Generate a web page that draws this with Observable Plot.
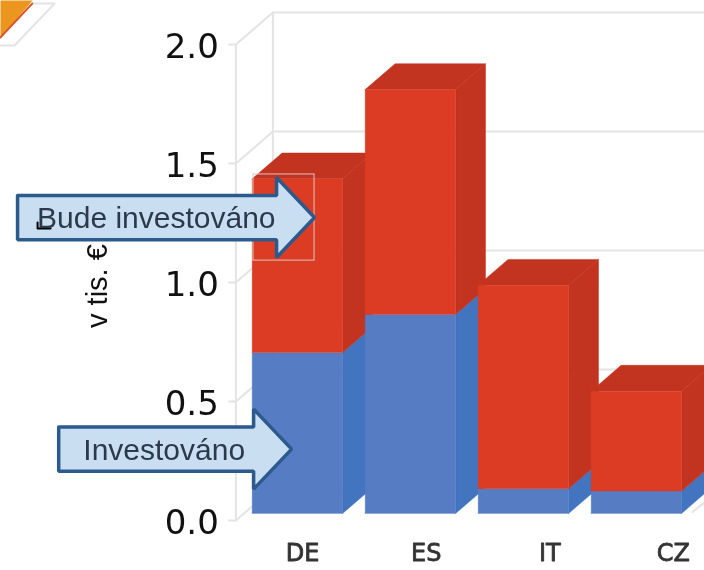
<!DOCTYPE html>
<html><head><meta charset="utf-8">
<script src="https://cdn.jsdelivr.net/npm/d3@7"></script>
<script src="https://cdn.jsdelivr.net/npm/@observablehq/plot@0.6"></script>
<style>
html,body{margin:0;padding:0;background:#fff;overflow:hidden}
svg{display:block;filter:blur(0.65px)}
</style></head><body><div id="c"></div>
<script>
// Data (thousands of €)
const categories = ["DE", "ES", "IT", "CZ"];
const invested = [0.676, 0.836, 0.104, 0.094];
const toInvest = [0.73, 0.945, 0.855, 0.42];
const yTicks = [0, 0.5, 1, 1.5, 2];

// Plot frame in data units (x: category index, y: thousands of €)
const xDomain = [-2.633, 3.597];
const yDomain = [-0.2101, 2.1849];

// Pseudo-3D depth of the chart box, in data units
const depthX = 0.327, depthY = 0.134;
const barFront = 0.22, barBack = 1.03, barHalf = 0.4, barShift = -0.078;
const proj = (x, v, t) => ({x: x + t * depthX, y: v + t * depthY});

const red = "#dc3c24", redDark = "#c23420", blue = "#567cc3", blueDark = "#4274bf";

const tops = [], sides = [], fronts = [];
categories.forEach((c, i) => {
  const l = i + barShift - barHalf, r = i + barShift + barHalf;
  const tot = invested[i] + toInvest[i];
  const quad = (id, fill, pts) => pts.map(p => ({id, fill, ...p}));
  tops.push(...quad(c + "t", redDark, [
    proj(l, tot, barFront), proj(r, tot, barFront), proj(r, tot, barBack), proj(l, tot, barBack)]));
  sides.push(...quad(c + "b", blueDark, [
    proj(r, 0, barFront), proj(r, invested[i], barFront), proj(r, invested[i], barBack), proj(r, 0, barBack)]));
  sides.push(...quad(c + "r", redDark, [
    proj(r, invested[i], barFront), proj(r, tot, barFront), proj(r, tot, barBack), proj(r, invested[i], barBack)]));
  fronts.push(...quad(c + "fb", blue, [
    proj(l, 0, barFront), proj(r, 0, barFront), proj(r, invested[i], barFront), proj(l, invested[i], barFront)]));
  fronts.push(...quad(c + "fr", red, [
    proj(l, invested[i], barFront), proj(r, invested[i], barFront), proj(r, tot, barFront), proj(l, tot, barFront)]));
});
const close = rows => d3.groups(rows, d => d.id).flatMap(([, g]) => [...g, g[0]]);

// Box walls
const wallX = -0.55, gridEnd = 3.6;
const walls = [];
yTicks.forEach(v => {
  const b = proj(wallX, v, 1), f = proj(wallX, v, 0);
  walls.push({id: "g" + v, ...b}, {id: "g" + v, x: gridEnd, y: b.y});
  walls.push({id: "d" + v, x: f.x - 0.06, y: v}, {id: "d" + v, ...f}, {id: "d" + v, ...b});
});
walls.push({id: "vf", ...proj(wallX, 0, 0)}, {id: "vf", ...proj(wallX, 2, 0)});
walls.push({id: "vb", ...proj(wallX, 0, 1)}, {id: "vb", ...proj(wallX, 2, 1)});
const floorEdge = [{id: "e", x: 3.49, y: 0.035}, {id: "e", x: 3.6, y: 0.077}];

// Block arrows: tip and tail along the body axis, in data units
const bodyHalf = 0.093, headHalf = 0.168, headLen = 0.336;
const arrow = (id, tailX, tipX, y) => [
  [tailX, y + bodyHalf], [tipX - headLen, y + bodyHalf], [tipX - headLen, y + headHalf],
  [tipX, y], [tipX - headLen, y - headHalf], [tipX - headLen, y - bodyHalf],
  [tailX, y - bodyHalf], [tailX, y + bodyHalf]
].map(([x, y]) => ({id, x, y}));
const arrows = [...arrow("a1", -2.482, 0.146, 1.273), ...arrow("a2", -2.118, -0.057, 0.30)];
const arrowLabels = [
  {text: "Bude investováno", x: -2.31, y: 1.272, size: 30},
  {text: "Investováno", x: -1.9, y: 0.298, size: 30}
];
const boxEdge = [{x1: -0.394, x2: 0.146, y1: 1.092, y2: 1.454}];
const glitch = [{x: -2.305, y: 1.252}, {x: -2.305, y: 1.227}, {x: -2.19, y: 1.227}];

// Fragment of a neighbouring shape cropped in the top-left corner
const cornerOrange = [{x: -2.633, y: 2.185}, {x: -2.349, y: 2.185}, {x: -2.633, y: 2.025}];
const cornerEdge = [{x: -2.633, y: 2.03}, {x: -2.352, y: 2.172}];
const cornerGray = [{x: -2.349, y: 2.172}, {x: -2.155, y: 2.172}, {x: -2.509, y: 1.996}, {x: -2.633, y: 1.996}];

const xStepLabels = 1.094, xLabelStart = 0.04;
const plot = Plot.plot({
  width: 704, height: 570,
  marginTop: 0, marginRight: 0, marginBottom: 0, marginLeft: 0,
  x: {domain: xDomain, axis: null},
  y: {domain: yDomain, axis: null},
  color: {type: "identity"},
  style: {background: "#fff", overflow: "hidden"},
  marks: [
    Plot.line(cornerGray, {x: "x", y: "y", stroke: "#e3e3e3", strokeWidth: 2}),
    Plot.line(cornerOrange, {x: "x", y: "y", fill: "#ea961f", stroke: "none", curve: "linear-closed"}),
    Plot.line(cornerEdge, {x: "x", y: "y", stroke: "#d9522a", strokeWidth: 2}),
    Plot.line(walls, {x: "x", y: "y", z: "id", stroke: "#e4e4e4", strokeWidth: 2}),
    Plot.line(close(tops), {x: "x", y: "y", z: "id", fill: "fill", stroke: "fill", strokeWidth: 0.5}),
    Plot.line(close(sides), {x: "x", y: "y", z: "id", fill: "fill", stroke: "fill", strokeWidth: 0.5}),
    Plot.line(close(fronts), {x: "x", y: "y", z: "id", fill: "fill", stroke: "fill", strokeWidth: 0.3}),
    Plot.line(floorEdge, {x: "x", y: "y", z: "id", stroke: "#e4e4e4", strokeWidth: 2}),
    Plot.text(yTicks, {x: -0.71, dx: 1, y: d => d, dy: 3, text: d => d3.format(".1f")(d), textAnchor: "end",
      fontFamily: "DejaVu Sans", fontSize: 34, fill: "#111", style: "letter-spacing:6px"}),
    Plot.text(categories, {x: (d, i) => xLabelStart + i * xStepLabels, y: -0.139, text: d => d,
      fontFamily: "DejaVu Sans", fontSize: 24, fill: "#333", stroke: "#333", strokeWidth: 0.8, style: "letter-spacing:1px"}),
    Plot.text(["v tis. €"], {x: -1.77, y: 0.985, text: d => d, rotate: -90,
      fontFamily: "Liberation Sans", fontSize: 29, fill: "#111"}),
    Plot.rect(boxEdge, {x1: "x1", x2: "x2", y1: "y1", y2: "y2", fill: "none", stroke: "#d8c8c0", strokeWidth: 1}),
    Plot.line(arrows, {x: "x", y: "y", z: "id", fill: "#c9dff1", stroke: "#2c5a8c", strokeWidth: 3.5, strokeLinejoin: "miter"}),
    Plot.line(glitch, {x: "x", y: "y", stroke: "#000", strokeWidth: 2}),
    Plot.text(arrowLabels, {x: "x", y: "y", text: "text", textAnchor: "start", fontFamily: "Liberation Sans", fontSize: "size",
      fill: "#2b3a4a", dy: 1})
  ]
});
document.getElementById("c").appendChild(plot);
</script></body></html>
